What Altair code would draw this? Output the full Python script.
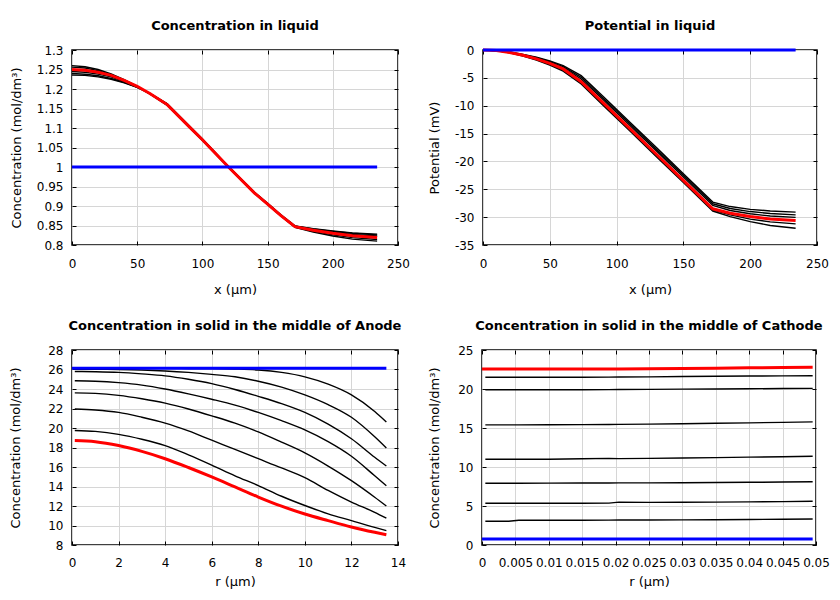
import altair as alt
import pandas as pd

# ---------------- Panel 1: Concentration in liquid ----------------
liq_x = [0, 10, 20, 30, 40, 50, 60, 73, 90, 100, 120, 140, 150, 160, 171, 185, 200, 215, 234]
liq_red = [1.250, 1.248, 1.243, 1.235, 1.222, 1.207, 1.188, 1.160, 1.103, 1.070, 1.000, 0.933, 0.905, 0.876, 0.847, 0.838, 0.830, 0.824, 0.819]
liq_black = [
    [1.260, 1.257, 1.250, 1.239, 1.224, 1.207, 1.187, 1.158, 1.101, 1.068, 0.999, 0.932, 0.904, 0.875, 0.845, 0.833, 0.823, 0.815, 0.810],
    [1.256, 1.254, 1.247, 1.237, 1.223, 1.207, 1.187, 1.159, 1.102, 1.069, 1.000, 0.933, 0.904, 0.875, 0.846, 0.835, 0.826, 0.819, 0.814],
    [1.245, 1.243, 1.238, 1.231, 1.219, 1.205, 1.188, 1.161, 1.104, 1.071, 1.001, 0.934, 0.906, 0.877, 0.848, 0.840, 0.833, 0.827, 0.823],
    [1.240, 1.238, 1.234, 1.227, 1.217, 1.204, 1.188, 1.162, 1.105, 1.072, 1.001, 0.934, 0.906, 0.877, 0.848, 0.841, 0.835, 0.830, 0.826],
    [1.236, 1.235, 1.231, 1.225, 1.216, 1.204, 1.188, 1.162, 1.105, 1.072, 1.001, 0.935, 0.907, 0.878, 0.849, 0.842, 0.836, 0.831, 0.828],
]
liq_blue_x = [0, 234]
liq_blue = [1.0, 1.0]
liq_xticks = [0, 50, 100, 150, 200, 250]
liq_yticks = [0.8, 0.85, 0.9, 0.95, 1.0, 1.05, 1.1, 1.15, 1.2, 1.25, 1.3]

# ---------------- Panel 2: Potential in liquid ----------------
pot_x = [0, 10, 20, 30, 40, 50, 60, 73.5, 90, 110, 130, 150, 172, 185, 200, 215, 234]
pot_red = [0, -0.1, -0.45, -0.95, -1.6, -2.4, -3.4, -5.7, -9.5, -14.1, -18.75, -23.4, -28.5, -29.3, -29.9, -30.35, -30.6]
pot_black = [
    [0, -0.08, -0.35, -0.78, -1.3, -1.95, -2.8, -4.6, -8.35, -12.95, -17.55, -22.2, -27.3, -28.1, -28.6, -28.9, -29.1],
    [0, -0.09, -0.38, -0.83, -1.4, -2.1, -3.0, -4.9, -8.65, -13.25, -17.85, -22.5, -27.6, -28.45, -29.0, -29.35, -29.6],
    [0, -0.1, -0.42, -0.9, -1.5, -2.25, -3.2, -5.2, -8.95, -13.55, -18.15, -22.8, -27.9, -28.8, -29.4, -29.8, -30.05],
    [0, -0.11, -0.48, -1.02, -1.7, -2.55, -3.6, -5.9, -9.75, -14.35, -19.0, -23.6, -28.7, -29.6, -30.35, -30.85, -31.2],
    [0, -0.12, -0.5, -1.08, -1.8, -2.7, -3.8, -6.1, -9.95, -14.55, -19.2, -23.8, -28.9, -29.9, -30.8, -31.5, -32.0],
]
pot_blue_x = [0, 234]
pot_blue = [0, 0]
pot_xticks = [0, 50, 100, 150, 200, 250]
pot_yticks = [0, -5, -10, -15, -20, -25, -30, -35]

# ---------------- Panel 3: solid, Anode ----------------
an_r = [0.12, 1, 2, 3, 4, 5, 6, 7, 8, 9, 10, 11, 12, 13, 13.5]
an_red = [18.72, 18.6, 18.2, 17.6, 16.85, 15.95, 14.98, 13.95, 12.92, 11.98, 11.18, 10.5, 9.85, 9.3, 9.05]
an_black = [
    [26.12, 26.12, 26.12, 26.12, 26.12, 26.11, 26.1, 26.05, 25.95, 25.7, 25.25, 24.5, 23.4, 21.7, 20.62],
    [26.02, 26.02, 26.0, 25.95, 25.85, 25.7, 25.5, 25.25, 24.8, 24.2, 23.4, 22.4, 21.1, 19.1, 17.95],
    [25.8, 25.77, 25.7, 25.55, 25.35, 25.0, 24.55, 23.95, 23.25, 22.5, 21.6, 20.4, 18.9, 17.0, 16.1],
    [24.85, 24.8, 24.65, 24.4, 24.0, 23.5, 22.95, 22.35, 21.6, 20.75, 19.8, 18.6, 17.1, 15.1, 14.08],
    [23.6, 23.55, 23.35, 23.0, 22.55, 21.95, 21.25, 20.5, 19.6, 18.55, 17.45, 16.1, 14.6, 12.9, 12.0],
    [21.95, 21.85, 21.6, 21.1, 20.5, 19.7, 18.75, 17.8, 16.85, 15.9, 14.9, 13.6, 12.4, 11.35, 10.75],
    [19.75, 19.65, 19.35, 18.85, 18.2, 17.25, 16.2, 15.1, 14.1, 13.0, 12.05, 11.2, 10.5, 9.8, 9.47],
]
an_blue_x = [0, 13.5]
an_blue = [26.12, 26.12]
an_xticks = [0, 2, 4, 6, 8, 10, 12, 14]
an_yticks = [8, 10, 12, 14, 16, 18, 20, 22, 24, 26, 28]

# ---------------- Panel 4: solid, Cathode ----------------
ca_r = [0.0005, 0.004, 0.0055, 0.01, 0.015, 0.019, 0.0205, 0.025, 0.03, 0.035, 0.04, 0.045, 0.0495]
ca_red_r = [0, 0.004, 0.0055, 0.01, 0.015, 0.019, 0.0205, 0.025, 0.03, 0.035, 0.04, 0.045, 0.0495]
ca_red = [22.56, 22.56, 22.56, 22.56, 22.56, 22.57, 22.58, 22.6, 22.63, 22.67, 22.71, 22.75, 22.78]
ca_black = [
    [21.5, 21.5, 21.5, 21.5, 21.51, 21.52, 21.53, 21.56, 21.6, 21.63, 21.66, 21.68, 21.7],
    [19.9, 19.9, 19.9, 19.9, 19.91, 19.92, 19.93, 19.95, 19.98, 20.0, 20.03, 20.06, 20.08],
    [15.4, 15.4, 15.4, 15.41, 15.43, 15.45, 15.46, 15.5, 15.55, 15.6, 15.66, 15.72, 15.78],
    [11.0, 11.0, 11.0, 11.0, 11.05, 11.1, 11.08, 11.1, 11.15, 11.2, 11.26, 11.32, 11.38],
    [7.92, 7.92, 7.92, 7.93, 7.94, 7.95, 7.96, 7.97, 7.99, 8.01, 8.04, 8.07, 8.1],
    [5.35, 5.35, 5.35, 5.35, 5.36, 5.37, 5.5, 5.47, 5.48, 5.5, 5.53, 5.56, 5.6],
    [3.05, 3.05, 3.18, 3.18, 3.18, 3.19, 3.2, 3.2, 3.22, 3.24, 3.27, 3.3, 3.33],
]
ca_blue_x = [0, 0.0495]
ca_blue = [0.77, 0.77]
ca_xticks = [0, 0.005, 0.01, 0.015, 0.02, 0.025, 0.03, 0.035, 0.04, 0.045, 0.05]
ca_yticks = [0, 5, 10, 15, 20, 25]

CONC = "Concentration (mol/dm\u00b3)"
LABEL_EXPR = "datum.value < 0 ? '-' + format(-datum.value, '~g') : format(datum.value, '~g')"


def long_df(xs, series_list):
    rows = []
    for i, ys in enumerate(series_list):
        for xv, yv in zip(xs, ys):
            rows.append({"x": xv, "y": yv, "s": i})
    return pd.DataFrame(rows)


def main_axis(orient, ticks, title, lpad, tpad):
    return alt.Axis(
        orient=orient, values=ticks, ticks=False, domain=False, grid=True,
        labelExpr=LABEL_EXPR, labelFlush=False, labelOverlap=False,
        labelPadding=lpad, title=title, titlePadding=tpad, minExtent=0,
    )


def tick_axis(orient, ticks):
    return alt.Axis(
        orient=orient, values=ticks, ticks=True, tickSize=4, offset=-4,
        tickColor="black", tickWidth=1, domain=False, grid=False,
        labels=False, title=None, minExtent=0,
    )


def panel(title, xtitle, ytitle, xdom, ydom, xticks, yticks,
          bx, blacks, rx, red, ux, blue, width, ytpad, xlpad, xtpad,
          interp="linear", height=195):
    xs = alt.Scale(domain=xdom, nice=False, zero=False)
    ys = alt.Scale(domain=ydom, nice=False, zero=False)
    black_layer = alt.Chart(long_df(bx, blacks)).mark_line(
        color="black", strokeWidth=1.4, interpolate=interp
    ).encode(
        x=alt.X("x:Q", scale=xs, axis=main_axis("bottom", xticks, xtitle, xlpad, xtpad)),
        y=alt.Y("y:Q", scale=ys, axis=main_axis("left", yticks, ytitle, 9, ytpad)),
        detail="s:N",
    )
    red_layer = alt.Chart(long_df(rx, [red])).mark_line(
        color="#ff0000", strokeWidth=3, interpolate=interp
    ).encode(
        x=alt.X("x:Q", scale=xs, axis=tick_axis("bottom", xticks)),
        y=alt.Y("y:Q", scale=ys, axis=tick_axis("left", yticks)),
    )
    blue_layer = alt.Chart(long_df(ux, [blue])).mark_line(
        color="#0000ff", strokeWidth=3
    ).encode(
        x=alt.X("x:Q", scale=xs, axis=tick_axis("top", xticks)),
        y=alt.Y("y:Q", scale=ys, axis=tick_axis("right", yticks)),
    )
    return alt.layer(black_layer, red_layer, blue_layer).resolve_axis(
        x="independent", y="independent"
    ).properties(
        width=width, height=height,
        title=alt.TitleParams(text=title, frame="group", anchor="middle"),
    )


p1 = panel("Concentration in liquid", "x (\u00b5m)", CONC, [0, 250], [0.8, 1.3],
           liq_xticks, liq_yticks, liq_x, liq_black, liq_x, liq_red,
           liq_blue_x, liq_blue, 326, 13, 13, 14)
p2 = panel("Potential in liquid", "x (\u00b5m)", "Potential (mV)", [0, 250], [-35, 0],
           pot_xticks, pot_yticks, pot_x, pot_black, pot_x, pot_red,
           pot_blue_x, pot_blue, 334, 13, 13, 14)
p3 = panel("Concentration in solid in the middle of Anode", "r (\u00b5m)", CONC,
           [0, 14], [8, 28], an_xticks, an_yticks, an_r, an_black, an_r, an_red,
           an_blue_x, an_blue, 326, 25, 12, 7, interp="monotone")
p4 = panel("Concentration in solid in the middle of Cathode", "r (\u00b5m)", CONC,
           [0, 0.05], [0, 25], ca_xticks, ca_yticks, ca_r, ca_black, ca_red_r, ca_red,
           ca_blue_x, ca_blue, 334, 16, 12, 7)

chart = alt.concat(
    p1, p2, p3, p4, columns=2,
).properties(
    align="none", bounds="full",
    spacing={"row": 22, "column": 16},
    padding={"top": 11, "left": 0, "right": 0, "bottom": 0},
).configure(
    font="DejaVu Sans", background="white"
).configure_view(
    stroke="black", strokeWidth=1.5
).configure_axis(
    labelFont="DejaVu Sans", labelFontSize=12, labelColor="black",
    titleFont="DejaVu Sans", titleFontSize=13, titleFontWeight="normal",
    titleColor="black", gridColor="#d6d6d6", gridWidth=1,
).configure_title(
    font="DejaVu Sans", fontSize=13, fontWeight="bold", color="black", offset=11,
)

chart.save("out.html", embed_options={"renderer": "svg", "actions": False})
